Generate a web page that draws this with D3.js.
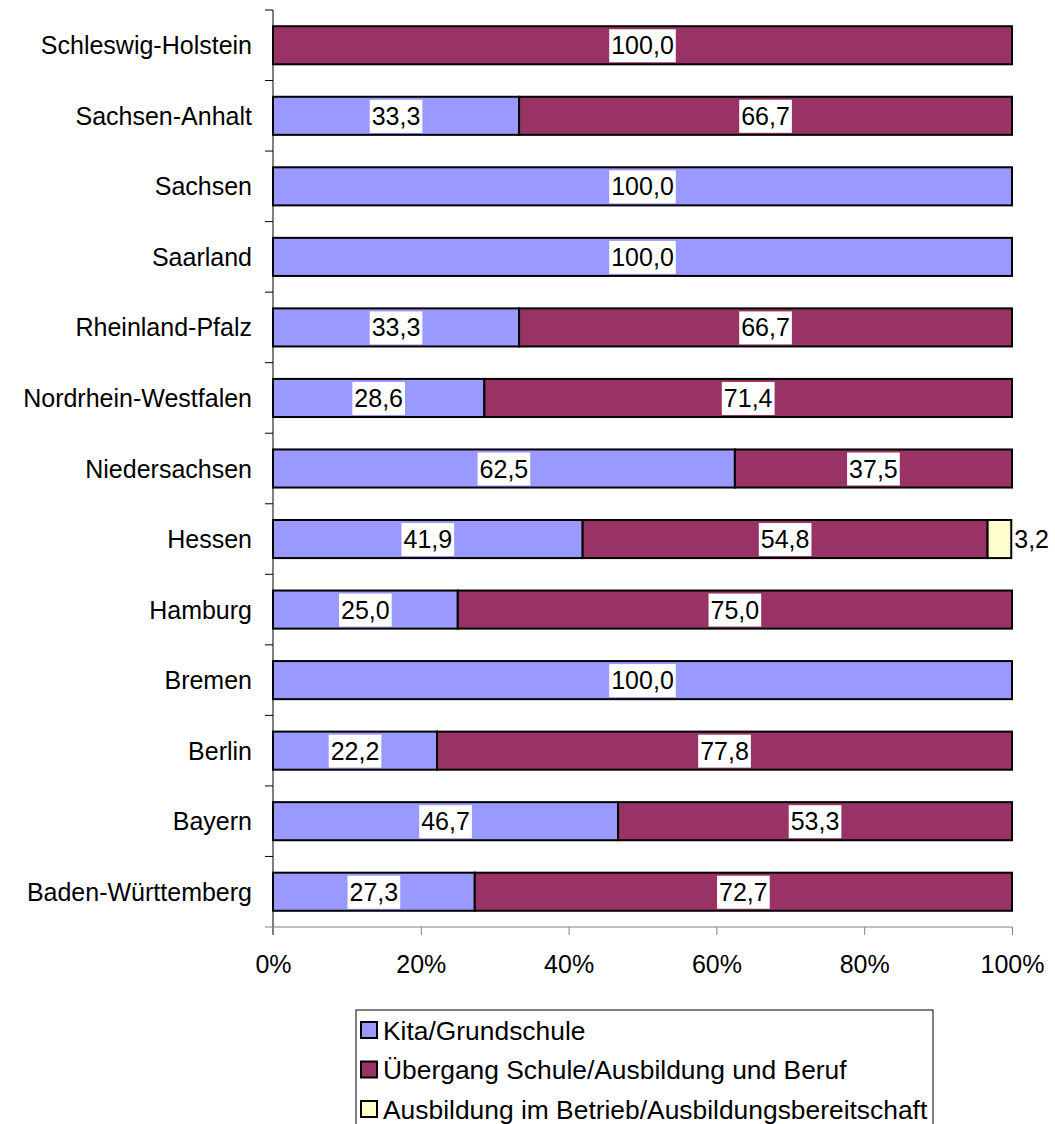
<!DOCTYPE html>
<html>
<head>
<meta charset="utf-8">
<script src="https://cdn.jsdelivr.net/npm/d3@7"></script>
<style>
body { margin: 0; background: #fff; }
text { font-family: "Liberation Sans", Arial, sans-serif; }
</style>
</head>
<body>
<svg id="chart" width="1055" height="1124"></svg>
<script>
var states = ['Schleswig-Holstein', 'Sachsen-Anhalt', 'Sachsen', 'Saarland', 'Rheinland-Pfalz',
  'Nordrhein-Westfalen', 'Niedersachsen', 'Hessen', 'Hamburg', 'Bremen', 'Berlin', 'Bayern',
  'Baden-Württemberg'];
var kita =       [0, 33.3, 100, 100, 33.3, 28.6, 62.5, 41.9, 25.0, 100, 22.2, 46.7, 27.3];
var uebergang =  [100, 66.7, 0, 0, 66.7, 71.4, 37.5, 54.8, 75.0, 0, 77.8, 53.3, 72.7];
var ausbildung = [0, 0, 0, 0, 0, 0, 0, 3.2, 0, 0, 0, 0, 0];
var seriesNames = ['Kita/Grundschule', 'Übergang Schule/Ausbildung und Beruf',
  'Ausbildung im Betrieb/Ausbildungsbereitschaft'];
var colors = ['#9999ff', '#993366', '#ffffcc'];
var tickValues = [0, 0.2, 0.4, 0.6, 0.8, 1];

var svg = d3.select('#chart');
var plotLeft = 273, plotRight = 1012, plotTop = 10, plotBottom = 927;
var fs = 25;

var x = d3.scaleLinear().domain([0, 1]).range([plotLeft, plotRight]);
var y = d3.scaleBand().domain(states).range([plotTop, plotBottom]).paddingInner(0.46).paddingOuter(0.23);
var yb = d3.scaleBand().domain(states).range([plotTop, plotBottom]);

var rows = states.map(function(s, i) {
  return { state: s, vals: [kita[i], uebergang[i], ausbildung[i]] };
});

// bars
rows.forEach(function(r) {
  var cum = 0;
  r.vals.forEach(function(v, k) {
    if (v <= 0) return;
    var x0 = x(cum / 100), x1 = x((cum + v) / 100);
    cum += v;
    svg.append('rect')
      .attr('x', x0).attr('y', y(r.state))
      .attr('width', x1 - x0).attr('height', y.bandwidth())
      .attr('fill', colors[k]).attr('stroke', '#000').attr('stroke-width', 2);
  });
});

// value labels
rows.forEach(function(r) {
  var cum = 0;
  r.vals.forEach(function(v, k) {
    if (v <= 0) return;
    var x0 = x(cum / 100), x1 = x((cum + v) / 100);
    cum += v;
    var label = d3.format('.1f')(v).replace('.', ',');
    var cy = y(r.state) + y.bandwidth() / 2;
    var outside = (x1 - x0) < 50;
    var tx = outside ? x1 + 3 : (x0 + x1) / 2;
    var g = svg.append('g');
    var t = g.append('text')
      .attr('x', tx).attr('y', cy)
      .attr('dy', '0.36em')
      .attr('text-anchor', outside ? 'start' : 'middle')
      .attr('font-size', fs)
      .text(label);
    if (!outside) {
      var bb = t.node().getBBox();
      g.insert('rect', 'text')
        .attr('x', bb.x - 2).attr('y', cy - 16)
        .attr('width', bb.width + 4).attr('height', 33)
        .attr('fill', '#fff');
    }
  });
});

// y axis
var yAxis = svg.append('g').attr('transform', 'translate(' + plotLeft + ',0)');
yAxis.append('line').attr('x1', 0).attr('x2', 0).attr('y1', plotTop).attr('y2', plotBottom + 8)
  .attr('stroke', '#000').attr('stroke-width', 1);
states.forEach(function(s) {
  yAxis.append('line').attr('x1', -8).attr('x2', 0)
    .attr('y1', yb(s)).attr('y2', yb(s)).attr('stroke', '#000');
});
states.forEach(function(s) {
  yAxis.append('text')
    .attr('x', -21).attr('y', yb(s) + yb.bandwidth() / 2)
    .attr('dy', '0.36em').attr('text-anchor', 'end')
    .attr('font-size', fs).text(s);
});

// x axis
var xAxis = d3.axisBottom(x).tickValues(tickValues).tickFormat(d3.format('.0%'))
  .tickSizeOuter(0).tickSize(8).tickPadding(20);
var xg = svg.append('g').attr('transform', 'translate(0,' + plotBottom + ')').call(xAxis);
xg.select('.domain').attr('stroke', '#808080').attr('d', 'M' + (plotLeft - 8) + ',0H' + plotRight);
xg.selectAll('.tick line').attr('stroke', '#808080');
xg.selectAll('.tick text').attr('font-size', fs).attr('fill', '#000')
  .style('font-family', '"Liberation Sans", Arial, sans-serif');

// legend
var lg = svg.append('g');
lg.append('rect').attr('x', 356).attr('y', 1010).attr('width', 577).attr('height', 130)
  .attr('fill', '#fff').attr('stroke', '#000').attr('stroke-width', 1);
seriesNames.forEach(function(n, i) {
  var ly = 1030 + i * 39.5;
  lg.append('rect').attr('x', 361).attr('y', ly - 8).attr('width', 16).attr('height', 16)
    .attr('fill', colors[i]).attr('stroke', '#000').attr('stroke-width', 2);
  lg.append('text').attr('x', 383).attr('y', ly).attr('dy', '0.36em')
    .attr('font-size', 26.4).text(n);
});
</script>
</body>
</html>
